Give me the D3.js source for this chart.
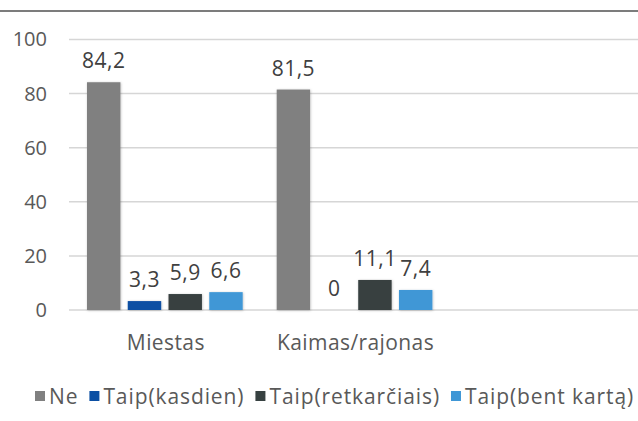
<!DOCTYPE html>
<html>
<head>
<meta charset="utf-8">
<script src="https://cdnjs.cloudflare.com/ajax/libs/d3/7.8.5/d3.min.js"></script>
<style>
  body { margin: 0; background: #fff; }
  text { font-family: "Open Sans", sans-serif; }
</style>
</head>
<body>
<script>
// Chart data
var categories = ["Miestas", "Kaimas/rajonas"];
var seriesNames = ["Ne", "Taip(kasdien)", "Taip(retkarčiais)", "Taip(bent kartą)"];
var ne = [84.2, 81.5];
var taipKasdien = [3.3, 0];
var taipRetkarciais = [5.9, 11.1];
var taipBentKarta = [6.6, 7.4];
var yTicks = [0, 20, 40, 60, 80, 100];
var colors = ["#808080", "#0b4fa3", "#374141", "#3f97d6"];

function drawChart(){

  var wx = 638,
      hy = 421;

  var svg = d3.select("body")
      .append("svg")
      .attr("width", wx)
      .attr("height", hy);

  // soft shadow under the bars
  var defs = svg.append("defs");
  var filter = defs.append("filter")
      .attr("id", "shadow")
      .attr("x", "-20%").attr("y", "-20%")
      .attr("width", "140%").attr("height", "140%");
  filter.append("feDropShadow")
      .attr("dx", 0.5).attr("dy", 0.5)
      .attr("stdDeviation", 1.2)
      .attr("flood-color", "#000")
      .attr("flood-opacity", 0.25);

  // top frame line
  svg.append("line")
      .attr("x1", 0).attr("x2", wx)
      .attr("y1", 11).attr("y2", 11)
      .style("stroke", "#505050")
      .style("stroke-width", 1.6);

  var left = 69,
      bandW = 189.7;

  var y = d3.scaleLinear()
      .domain([0, 100])
      .range([310, 39.5]);

  var x0 = d3.scaleBand()
      .domain(categories)
      .range([left, left + bandW * categories.length]);

  var x1 = d3.scaleBand()
      .domain(seriesNames)
      .range([18, bandW - 16])
      .paddingInner(0.18);

  // gridlines
  svg.append("g")
      .selectAll("line")
      .data(yTicks)
      .join("line")
      .attr("x1", left)
      .attr("x2", wx)
      .attr("y1", function(d){ return y(d); })
      .attr("y2", function(d){ return y(d); })
      .style("stroke", "#d6d6d6")
      .style("stroke-width", 1.5);

  // y axis labels
  var yAxis = d3.axisLeft(y)
      .tickValues(yTicks)
      .tickSize(0)
      .tickPadding(0);
  var gy = svg.append("g")
      .attr("transform", "translate(47,0)")
      .call(yAxis);
  gy.select(".domain").remove();
  gy.selectAll("text")
      .style("font-family", "'Open Sans', sans-serif")
      .style("font-size", "20px")
      .style("fill", "#595959");

  // bars
  var seriesValues = [ne, taipKasdien, taipRetkarciais, taipBentKarta];
  var points = [];
  categories.forEach(function(c, ci){
    seriesNames.forEach(function(s, si){
      points.push({cat: c, ser: s, si: si, value: seriesValues[si][ci]});
    });
  });

  svg.append("g")
      .selectAll("rect")
      .data(points)
      .join("rect")
      .attr("x", function(d){ return x0(d.cat) + x1(d.ser); })
      .attr("y", function(d){ return y(d.value); })
      .attr("width", x1.bandwidth())
      .attr("height", function(d){ return y(0) - y(d.value); })
      .attr("fill", function(d){ return colors[d.si]; })
      .attr("filter", "url(#shadow)");

  // value labels
  svg.append("g")
      .selectAll("text")
      .data(points)
      .join("text")
      .attr("x", function(d){ return x0(d.cat) + x1(d.ser) + x1.bandwidth() / 2; })
      .attr("y", function(d){ return y(d.value) - 14; })
      .attr("text-anchor", "middle")
      .style("font-size", "21px")
      .style("letter-spacing", "0.5px")
      .style("fill", "#404040")
      .text(function(d){ return String(d.value).replace(".", ","); });

  // category labels
  svg.append("g")
      .selectAll("text")
      .data(categories)
      .join("text")
      .attr("x", function(d){ return x0(d) + bandW / 2 + 2; })
      .attr("y", 350)
      .attr("text-anchor", "middle")
      .style("font-size", "21px")
      .style("letter-spacing", "0.4px")
      .style("fill", "#595959")
      .text(function(d){ return d; });

  // legend
  var legend = svg.append("g");
  var lx = 35;
  seriesNames.forEach(function(s, i){
    legend.append("rect")
        .attr("x", lx)
        .attr("y", 391)
        .attr("width", 10)
        .attr("height", 10)
        .attr("fill", colors[i]);
    var t = legend.append("text")
        .attr("x", lx + 14)
        .attr("y", 404)
        .style("font-size", "21px")
        .style("letter-spacing", "0.9px")
        .style("fill", "#595959")
        .text(s);
    lx = lx + 14 + t.node().getComputedTextLength() + 11;
  });
}
drawChart();
</script>
</body>
</html>
